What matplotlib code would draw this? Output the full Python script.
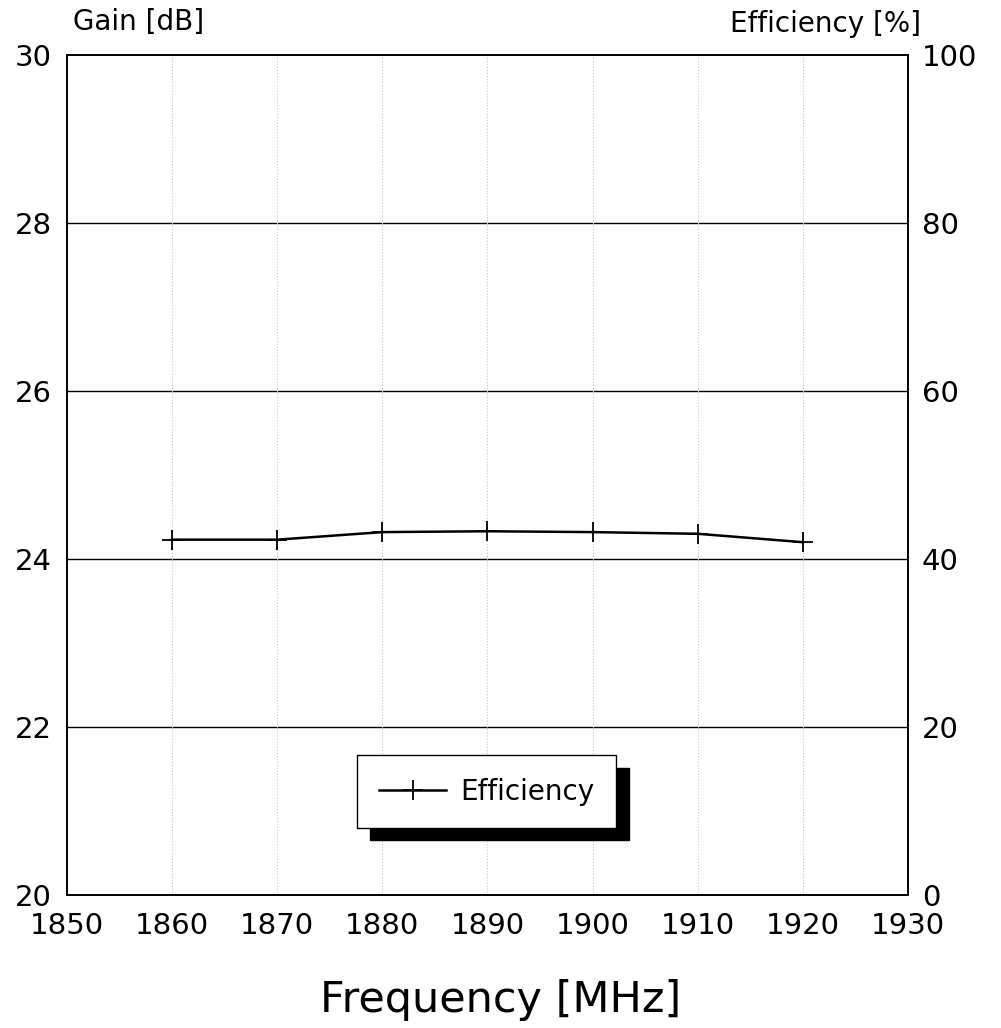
import matplotlib
matplotlib.use("Agg")
import matplotlib.pyplot as plt

plt.rcParams['font.family'] = ['DejaVu Sans']

# data
freq = [1860, 1870, 1880, 1890, 1900, 1910, 1920]
efficiency = [42.3, 42.3, 43.2, 43.3, 43.2, 43.0, 42.0]

x_ticks = [1850, 1860, 1870, 1880, 1890, 1900, 1910, 1920, 1930]
gain_ticks = [20, 22, 24, 26, 28, 30]
eff_ticks = [0, 20, 40, 60, 80, 100]

fig = plt.figure(figsize=(10.01, 10.28), dpi=100)
ax = fig.add_axes([0.0669, 0.1294, 0.8402, 0.8171])
ax2 = ax.twinx()

ax.set_xlim(1850, 1930)
ax.set_ylim(20, 30)
ax2.set_ylim(0, 100)

ax.set_xticks(x_ticks)
ax.set_yticks(gain_ticks)
ax2.set_yticks(eff_ticks)
ax.tick_params(axis='x', length=0, labelsize=21, pad=12)
ax.tick_params(axis='y', length=0, labelsize=21, pad=11)
ax2.tick_params(axis='y', length=0, labelsize=21, pad=10)

# grid: solid horizontal, faint dotted vertical
for g in gain_ticks[1:-1]:
    ax.axhline(g, color='black', lw=1.0, zorder=1)
for f in freq:
    ax.axvline(f, color='#c4c4c4', lw=0.8, ls=':', zorder=1)

for a in (ax, ax2):
    for s in a.spines.values():
        s.set_linewidth(1.2)

ax2.plot(freq, efficiency, color='black', lw=1.8, marker='+', markersize=15,
         markeredgewidth=1.3, label='Efficiency', zorder=3)

leg = ax2.legend(loc='lower left', bbox_to_anchor=(0.345, 0.08), borderaxespad=0,
                 fancybox=False, edgecolor='black', framealpha=1, fontsize=20,
                 handlelength=2.4, borderpad=0.8, handletextpad=0.5,
                 shadow={'ox': 9, 'oy': -9, 'color': 'black', 'alpha': 1})
leg.get_frame().set_linewidth(1.0)

fig.text(0.073, 0.979, 'Gain [dB]', fontsize=20, ha='left', va='center')
fig.text(0.920, 0.977, 'Efficiency [%]', fontsize=20, ha='right', va='center')
fig.text(0.5, 0.027, 'Frequency [MHz]', fontsize=31, ha='center', va='center')

fig.savefig('out.png', dpi=100)
